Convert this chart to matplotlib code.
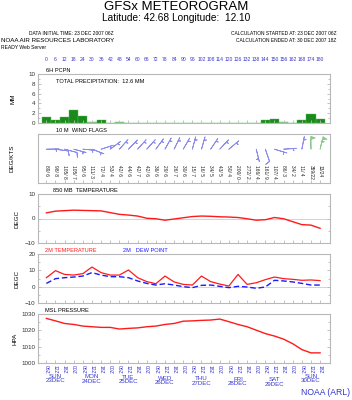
import numpy as np
import matplotlib.pyplot as plt
import matplotlib.transforms as mtransforms

plt.rcParams['font.family'] = ['Liberation Sans', 'DejaVu Sans']

# forecast hours, every 6 h from 23 DEC 2007 06Z
hours = list(range(0, 181, 6))

# 6h precipitation (mm)
pcpn = [1.2, 0.6, 1.2, 2.6, 1.5, 0.15, 0.7, 0.0, 0.15, 0, 0, 0, 0, 0, 0, 0,
        0, 0, 0, 0, 0, 0, 0, 0, 0.7, 0.9, 0.15, 0.0, 0.7, 1.8, 0.9]

# 10 m wind direction (deg) / speed (kts)
wdir = [89, 98, 105, 105, 95, 111, 72, 53, 42, 44, 42, 42, 36, 29, 26, 30,
        15, 16, 34, 43, 50, 200, 272, 166, 161, 107, 86, 34, 11, 359, 13]
wspd = [6, 8, 8, 7, 6, 3, 4, 4, 6, 6, 7, 6, 6, 6, 7, 6,
        7, 5, 5, 5, 4, 0, 2, 4, 9, 4, 3, 2, 4, 22, 24]

# 850 mb temperature (C)
t850 = [2.3, 3.0, 3.2, 3.4, 3.3, 3.2, 3.1, 2.4, 1.7, 1.4, 1.0, 0.1, -0.1, -0.7,
        -0.2, 0.3, 0.8, 1.0, 0.9, 0.7, 0.6, 0.4, -0.1, -0.7, -0.5, 0.4, -0.1,
        -1.3, -2.5, -2.7, -4.0]

# 2 m temperature and dew point (C)
t2m = [5.5, 9.8, 7.5, 7.1, 8.0, 12.0, 8.6, 7.1, 7.1, 10.2, 5.5, 3.1, 1.8, 6.5,
       2.9, 1.4, 1.0, 6.5, 3.1, 1.6, 0.4, 7.5, 1.4, 2.4, 4.3, 5.9, 4.9, 4.5,
       3.9, 4.1, 3.7]
td2m = [2.0, 4.9, 5.5, 5.9, 6.5, 8.6, 7.1, 6.1, 6.1, 5.5, 3.5, 2.0, 1.0, 1.8,
        1.0, 0.0, -0.6, 0.8, 1.0, 0.2, -0.6, 0.2, -0.2, -1.0, -0.2, 3.9, 3.5,
        2.9, 2.0, 1.0, 1.0]

# MSL pressure (hPa)
pmsl = [1027.3, 1025.8, 1024.2, 1023.6, 1022.6, 1022.2, 1021.8, 1021.8, 1020.8,
        1021.2, 1021.5, 1022.2, 1022.6, 1023.6, 1024.2, 1025.6, 1025.8, 1026.1,
        1026.3, 1026.9, 1025.3, 1023.6, 1022.2, 1020.1, 1018.0, 1016.5, 1014.6,
        1011.8, 1008.2, 1006.2, 1006.2]

days = ['SUN\n23DEC', 'MON\n24DEC', 'TUE\n25DEC', 'WED\n26DEC',
        'THU\n27DEC', 'FRI\n28DEC', 'SAT\n29DEC', 'SUN\n30DEC']

BLUE = '#3636d0'
FRAME = '#b8b8b8'

fig = plt.figure(figsize=(3.52, 4.0), dpi=100)

fig.text(0.5, 0.982, 'GFSx METEOROGRAM', ha='center', va='center', fontsize=9.5)
fig.text(0.5, 0.955, 'Latitude: 42.68 Longitude:  12.10', ha='center', va='center', fontsize=7.3)
fig.text(0.203, 0.917, 'DATA INITIAL TIME: 23 DEC 2007 06Z', ha='center', va='center', fontsize=3.5)
fig.text(0.003, 0.899, 'NOAA AIR RESOURCES LABORATORY', ha='left', va='center', fontsize=4.5)
fig.text(0.003, 0.882, 'READY Web Server', ha='left', va='center', fontsize=3.6)
fig.text(0.957, 0.917, 'CALCULATION STARTED AT: 23 DEC 2007 06Z', ha='right', va='center', fontsize=3.5)
fig.text(0.957, 0.899, 'CALCULATION ENDED AT: 30 DEC 2007 18Z', ha='right', va='center', fontsize=3.5)
fig.text(0.995, 0.018, 'NOAA (ARL)', ha='right', va='center', fontsize=6.2, color=BLUE)

left, width, h = 38 / 352, 292 / 352, 49 / 400
bottoms = [(400 - 123) / 400, (400 - 183) / 400, (400 - 243) / 400,
           (400 - 303) / 400, (400 - 363) / 400]
axes = [fig.add_axes([left, b, width, h]) for b in bottoms]
ax_p, ax_w, ax_t, ax_s, ax_m = axes

for ax in axes:
    ax.set_xlim(-5.5, 186.5)
    ax.set_xticks(hours)
    ax.set_xticklabels([])
    for sp in ax.spines.values():
        sp.set_color(FRAME)
        sp.set_linewidth(0.8)
    ax.tick_params(axis='both', which='both', direction='in', length=2.5,
                   color=FRAME, width=0.6, right=True, labelsize=4.5,
                   labelcolor='#333333', pad=2)
    ax.tick_params(axis='y', which='minor', length=1.5)

# precipitation
bar_cols = ['#1a8a1a' if v >= 0.3 else '#9ccc9c' for v in pcpn]
ax_p.bar(hours, pcpn, width=6, color=bar_cols, edgecolor='#5cb85c', linewidth=0.3)
ax_p.set_ylim(0, 10)
ax_p.set_yticks([0, 2, 4, 6, 8, 10])
ax_p.set_yticks([1, 3, 5, 7, 9], minor=True)
ax_p.set_ylabel('MM', fontsize=4.5, labelpad=9)
ax_p.text(0.026, 1.02, '6H PCPN', transform=ax_p.transAxes, fontsize=4.1, va='bottom')
ax_p.text(0.062, 0.84, 'TOTAL PRECIPITATION:  12.6 MM', transform=ax_p.transAxes,
          fontsize=4.1, va='center')
trans = mtransforms.blended_transform_factory(ax_p.transData, ax_p.transAxes)
for hr in hours:
    ax_p.text(hr, 1.29, str(hr), transform=trans, ha='center', va='center',
              fontsize=3.6, color=BLUE)

# wind flags (u, v from met direction)
d = np.radians(wdir)
u = -np.array(wspd) * np.sin(d)
v = -np.array(wspd) * np.cos(d)
yb = [0.69] * len(hours)
cols = ['#8c8cec' if s < 20 else '#8cc88c' for s in wspd]
ax_w.set_ylim(0, 1)
ax_w.barbs(hours, yb, u, v, color=cols, length=4.3, linewidth=0.6,
           sizes=dict(emptybarb=0, spacing=0.18, height=0.35, width=0.25),
           barb_increments=dict(half=5, full=10, flag=20))
ax_w.set_yticks([])
ax_w.tick_params(axis='y', which='both', left=False, right=False)
ax_w.set_ylabel('DEG/KTS', fontsize=4.5, labelpad=17)
ax_w.text(0.062, 1.02, '10 M  WIND FLAGS', transform=ax_w.transAxes, fontsize=4.1, va='bottom')
trans = mtransforms.blended_transform_factory(ax_w.transData, ax_w.transAxes)
for hr, dd, ss in zip(hours, wdir, wspd):
    ax_w.text(hr, 0.37, f'{dd}/{ss:2d}', transform=trans, ha='center', va='top',
              rotation=270, fontsize=3.5, color='#222222')

# 850 mb temperature
ax_t.plot(hours, t850, color='#ff1a1a', lw=1.0)
ax_t.axhline(0, color='#c8c8f4', lw=0.6, zorder=0)
ax_t.set_ylim(-10, 10)
ax_t.set_yticks([-10, 0, 10])
ax_t.set_yticks([-5, 5], minor=True)
ax_t.set_ylabel('DEGC', fontsize=4.5, labelpad=4)
ax_t.text(0.05, 1.02, '850 MB  TEMPERATURE', transform=ax_t.transAxes, fontsize=4.1, va='bottom')

# 2 m temperature / dew point
ax_s.plot(hours, t2m, color='#ff1a1a', lw=0.9)
ax_s.plot(hours, td2m, color='#1a1aff', lw=1.0, ls=(0, (4, 2)))
ax_s.axhline(0, color='#c8c8f4', lw=0.6, zorder=0)
ax_s.set_ylim(-10, 20)
ax_s.set_yticks([-10, 0, 10, 20])
ax_s.set_yticks([-5, 5, 15], minor=True)
ax_s.set_ylabel('DEGC', fontsize=4.5, labelpad=4)
ax_s.text(0.024, 1.02, '2M TEMPERATURE', transform=ax_s.transAxes, fontsize=4.1,
          va='bottom', color='#ff1a1a')
ax_s.text(0.29, 1.02, '2M   DEW POINT', transform=ax_s.transAxes, fontsize=4.1,
          va='bottom', color='#1a1aff')

# MSL pressure
ax_m.plot(hours, pmsl, color='#ff1a1a', lw=1.0)
ax_m.set_ylim(1000, 1030)
ax_m.set_yticks([1000, 1010, 1020, 1030])
ax_m.set_yticks([1005, 1015, 1025], minor=True)
ax_m.set_ylabel('HPA', fontsize=4.5, labelpad=3)
ax_m.text(0.024, 1.02, 'MSL PRESSURE', transform=ax_m.transAxes, fontsize=4.1, va='bottom')
trans = mtransforms.blended_transform_factory(ax_m.transData, ax_m.transAxes)
for hr in hours:
    ax_m.text(hr, -0.05, f'{(6 + hr) % 24:02d}Z', transform=trans, ha='center',
              va='top', rotation=270, fontsize=3.6, color=BLUE)
for i, lab in enumerate(days):
    ax_m.text(6 + 24 * i, -0.22 - 0.012 * (i % 7), lab, transform=trans, ha='center',
              va='top', fontsize=4.4, color=BLUE, linespacing=0.85)

fig.savefig('out.png', dpi=100)
